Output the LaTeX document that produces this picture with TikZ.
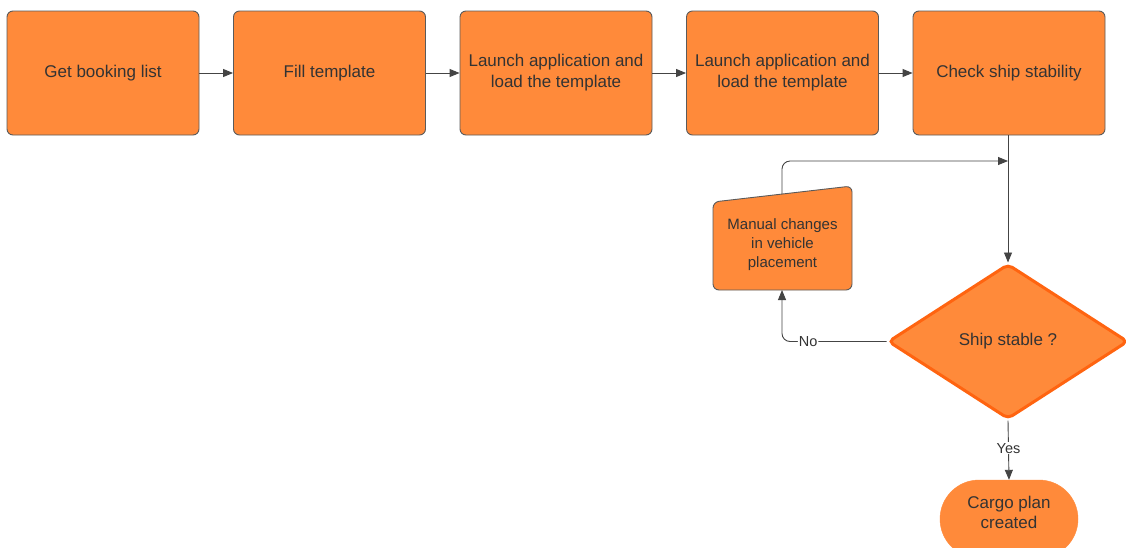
\documentclass[tikz,border=0pt]{standalone}
\usepackage{fontspec}
\setmainfont{Liberation Sans}
\usetikzlibrary{arrows.meta,shapes.geometric,shapes.misc}
\definecolor{boxfill}{HTML}{FF8A3A}
\definecolor{boxline}{HTML}{5A5A5A}
\definecolor{decline}{HTML}{FF6410}
\definecolor{txt}{HTML}{333333}
\definecolor{wire}{HTML}{444444}
\tikzset{
  stepbox/.style={rectangle, rounded corners=6pt, fill=boxfill, draw=boxline,
    line width=0.9pt, minimum width=192pt, minimum height=124pt, inner sep=0pt,
    align=center, text=txt, font=\fontsize{17}{21}\selectfont},
  flow/.style={draw=wire, line width=0.9pt, -{Triangle[length=10pt,width=8pt]}},
  lbl/.style={fill=white, inner sep=1pt, text=txt, font=\fontsize{14.5}{17}\selectfont},
}
\begin{document}
\begin{tikzpicture}[x=1pt,y=-1pt]
\useasboundingbox (0,0) rectangle (1126,547);
\fill[white] (0,0) rectangle (1126,547);

% top row of process steps
\node[stepbox] (s1) at (103,73) {Get booking list};
\node[stepbox] (s2) at (329.5,73) {Fill template};
\node[stepbox] (s3) at (556,73) {Launch application and\\load the template};
\node[stepbox] (s4) at (782.5,73) {Launch application and\\load the template};
\node[stepbox] (s5) at (1009,73) {Check ship stability};

\draw[flow] (s1) -- (s2);
\draw[flow] (s2) -- (s3);
\draw[flow] (s3) -- (s4);
\draw[flow] (s4) -- (s5);

% manual input step (slanted top)
\fill[boxfill, draw=boxline, line width=0.9pt, rounded corners=6pt]
  (713,202) -- (852,186) -- (852,290) -- (713,290) -- cycle;
\node[align=center, text=txt, font=\fontsize{15}{19}\selectfont] (man) at (782.5,245)
  {Manual changes\\in vehicle\\placement};
\coordinate (mantop) at (782,194);
\coordinate (manbot) at (782,290);

% decision
\node[diamond, fill=boxfill, draw=decline, line width=3pt, rounded corners=5pt,
  minimum width=240pt, minimum height=155pt, inner sep=0pt, text=txt,
  font=\fontsize{17}{21}\selectfont] (dec) at (1008,341.5) {Ship stable ?};

% end state
\node[rounded rectangle, fill=boxfill, draw=boxfill, minimum width=138pt,
  minimum height=78pt, inner sep=0pt] (cargo) at (1009,519) {};
\node[align=center, text=txt, font=\fontsize{17}{20}\selectfont] (cargotxt) at (1009,512)
  {Cargo plan\\created};

% connectors
\coordinate (join) at (1008,161);
\draw[flow] (s5.south -| dec.north) -- (dec.north);
\draw[flow, rounded corners=8pt] (mantop) |- (join);
\draw[flow, rounded corners=8pt] (dec.west) -| node[lbl, pos=0.375] (no) {No} (manbot);
\draw[flow] (dec.south) -- node[lbl, pos=0.47] (yes) {Yes} (cargo.north);
\end{tikzpicture}
\end{document}
